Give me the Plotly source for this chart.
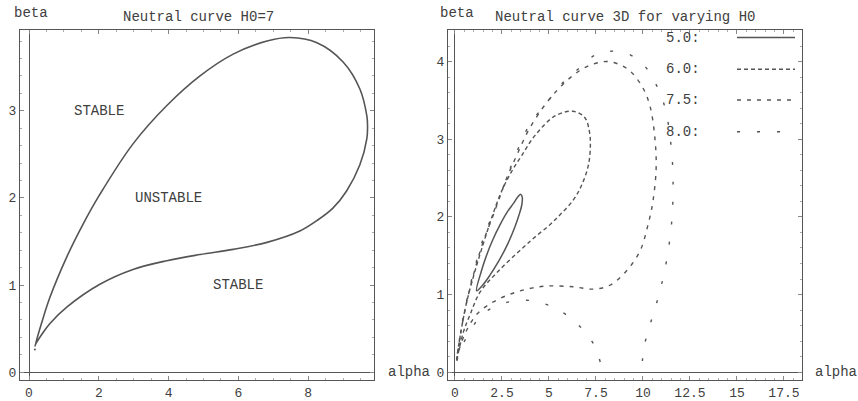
import plotly.graph_objects as go

# ---------------- data ----------------
# Left panel: neutral curve for H0 = 7, traced from the cusp along the upper branch,
# around the nose and back along the lower branch.
h7_alpha = [0.17, 0.35, 0.60, 1.09, 1.55, 2.03, 2.98, 3.95, 4.90, 5.85, 6.82, 7.48,
            8.25, 9.00, 9.48, 9.68, 9.70, 9.68, 9.48, 9.10, 8.70, 8.25, 7.76, 6.82, 5.85,
            4.90, 3.95, 2.98, 2.03, 1.09, 0.60, 0.36, 0.20, 0.17]
h7_beta = [0.30, 0.55, 0.86, 1.33, 1.70, 2.04, 2.62, 3.06, 3.40, 3.65, 3.80, 3.84,
           3.78, 3.56, 3.25, 2.94, 2.83, 2.68, 2.38, 2.08, 1.88, 1.74, 1.62, 1.49, 1.41,
           1.35, 1.28, 1.18, 1.01, 0.75, 0.56, 0.43, 0.33, 0.30]
h7_dot_alpha = [0.17]
h7_dot_beta = [0.26]

region_labels = ["STABLE", "UNSTABLE", "STABLE"]
region_alpha = [2.0, 4.0, 6.0]
region_beta = [3.0, 2.0, 1.0]

# Right panel: neutral curves for several H0
h5_alpha = [1.15, 1.40, 1.70, 2.00, 2.40, 2.80, 3.10, 3.35, 3.50, 3.58, 3.55, 3.40, 3.20,
            2.80, 2.30, 1.86, 1.50, 1.15]
h5_beta = [1.05, 1.30, 1.52, 1.70, 1.90, 2.07, 2.17, 2.26, 2.29, 2.25, 2.15, 2.02, 1.88,
           1.65, 1.42, 1.25, 1.13, 1.05]

h6_alpha = [0.10, 0.30, 0.60, 1.00, 1.50, 2.04, 2.48, 3.00, 3.55, 4.26, 5.32, 6.28, 6.90,
            7.15, 7.20, 7.09, 6.74, 6.30, 5.60, 5.05, 4.30, 3.60, 2.30, 1.33, 0.80, 0.45, 0.10]
h6_beta = [0.18, 0.50, 0.88, 1.25, 1.65, 2.05, 2.33, 2.58, 2.79, 3.05, 3.30, 3.36, 3.28,
           3.10, 2.90, 2.66, 2.41, 2.22, 2.03, 1.90, 1.75, 1.60, 1.30, 1.03, 0.74, 0.52, 0.18]

h75_alpha = [0.10, 0.30, 0.60, 1.00, 1.50, 2.00, 2.30, 2.75, 3.28, 3.88, 4.63, 5.32, 6.22,
             7.07, 8.14, 9.20, 9.95, 10.37, 10.64, 10.70, 10.53, 10.27, 9.84, 9.14, 8.24,
             7.34, 6.28, 4.89, 3.83, 2.77, 1.86, 1.17, 0.64, 0.27, 0.10]
h75_beta = [0.17, 0.50, 0.88, 1.27, 1.68, 2.00, 2.20, 2.50, 2.79, 3.10, 3.39, 3.60, 3.81,
            3.94, 4.00, 3.90, 3.68, 3.43, 3.00, 2.62, 2.20, 1.90, 1.56, 1.31, 1.12,
            1.07, 1.10, 1.11, 1.07, 0.99, 0.88, 0.75, 0.55, 0.33, 0.17]

h8_low_alpha = [0.10, 0.30, 0.70, 1.42, 2.39, 3.20, 4.15, 5.20, 6.20, 6.90, 7.45, 7.80]
h8_low_beta = [0.15, 0.30, 0.48, 0.74, 0.87, 0.92, 0.92, 0.84, 0.69, 0.52, 0.33, 0.06]

h8_up_alpha = [0.10, 0.30, 0.60, 1.00, 1.50, 2.00, 2.40, 2.90, 3.40, 4.00, 4.95, 5.74, 6.54,
               7.29, 8.09, 9.20, 10.10, 10.64, 11.00, 11.28, 11.54, 11.60, 11.55, 11.30,
               10.96, 10.64, 10.30, 10.03, 9.95]
h8_up_beta = [0.15, 0.52, 0.90, 1.30, 1.72, 2.03, 2.27, 2.60, 2.90, 3.20, 3.49, 3.73, 3.90,
              4.06, 4.13, 4.10, 3.94, 3.73, 3.54, 3.29, 2.80, 2.46, 2.00, 1.50,
              1.10, 0.82, 0.55, 0.29, 0.03]

legend_labels = ["5.0:", "6.0:", "7.5:", "8.0:"]

left_xticks = [0, 2, 4, 6, 8]
left_yticks = [0, 1, 2, 3]
right_xticks = [0, 2.5, 5, 7.5, 10, 12.5, 15, 17.5]
right_yticks = [0, 1, 2, 3, 4]

# ---------------- styling ----------------
W, H = 858, 401
FONT = "Liberation Mono, Courier New, monospace"
TXT = "#404040"
LINE = "#555555"

DASH_60 = "4px,3px"
DASH_75 = "4px,6px"
DASH_80 = "3px,17px"


def px_x(p):
    return p / W


def px_y(p):
    return 1 - p / H


fig = go.Figure()

fig.add_trace(go.Scatter(x=h7_alpha, y=h7_beta, mode="lines", xaxis="x", yaxis="y",
                         line=dict(color=LINE, width=1.6, shape="spline", smoothing=1.0),
                         hoverinfo="skip"))
fig.add_trace(go.Scatter(x=h7_dot_alpha, y=h7_dot_beta, mode="markers", xaxis="x", yaxis="y",
                         marker=dict(color=LINE, size=2), hoverinfo="skip"))

curves = [
    (h5_alpha, h5_beta, "solid", 1.5),
    (h6_alpha, h6_beta, DASH_60, 1.4),
    (h75_alpha, h75_beta, DASH_75, 1.4),
    (h8_low_alpha, h8_low_beta, DASH_80, 1.4),
    (h8_up_alpha, h8_up_beta, DASH_80, 1.4),
]
for ax, bx, dash, w in curves:
    fig.add_trace(go.Scatter(x=ax, y=bx, mode="lines", xaxis="x2", yaxis="y2",
                             line=dict(color=LINE, width=w, dash=dash, shape="spline",
                                       smoothing=1.0),
                             hoverinfo="skip"))

y_dom = [px_y(384), px_y(30)]


def axis_style(rng, domain, tickvals, anchor, minor_step):
    return dict(
        range=rng, domain=domain, anchor=anchor, tickmode="array", tickvals=tickvals,
        ticktext=[("%g" % v) for v in tickvals],
        showgrid=False, zeroline=True, zerolinecolor=LINE, zerolinewidth=1,
        showline=True, linecolor=LINE, linewidth=1, mirror="ticks",
        ticks="inside", ticklen=4, tickwidth=1, tickcolor="#888888",
        minor=dict(dtick=minor_step, ticks="inside", ticklen=2, tickcolor="#aaaaaa",
                   showgrid=False),
        tickfont=dict(family=FONT, size=13, color=TXT),
        fixedrange=True,
    )


fig.update_layout(
    width=W, height=H,
    margin=dict(l=0, r=0, t=0, b=0),
    paper_bgcolor="white", plot_bgcolor="white",
    showlegend=False,
    xaxis=axis_style([-0.258, 9.885], [px_x(20), px_x(374)], left_xticks, "y", 0.5),
    yaxis=axis_style([-0.091, 3.93], y_dom, left_yticks, "x", 0.2),
    xaxis2=axis_style([-0.372, 18.46], [px_x(448), px_x(802)], right_xticks, "y2", 0.5),
    yaxis2=axis_style([-0.102, 4.41], y_dom, right_yticks, "x2", 0.2),
)

ann = []


def text(x, y, s, size=14, xanchor="center"):
    ann.append(dict(x=x, y=y, xref="paper", yref="paper", text=s, showarrow=False,
                    xanchor=xanchor, yanchor="middle",
                    font=dict(family=FONT, size=size, color=TXT)))


# titles and axis names
text(px_x(198), px_y(17), "Neutral curve H0=7")
text(px_x(625), px_y(17), "Neutral curve 3D for varying H0")
text(px_x(12), px_y(13), "beta", xanchor="left")
text(px_x(438), px_y(13), "beta", xanchor="left")
text(px_x(386), px_y(376), "alpha", xanchor="left")
text(px_x(813), px_y(376), "alpha", xanchor="left")

# region labels inside the left panel
for lab, a, b in zip(region_labels, region_alpha, region_beta):
    ann.append(dict(x=a, y=b, xref="x", yref="y", text=lab, showarrow=False,
                    font=dict(family=FONT, size=14, color=TXT)))

# legend of the right panel
legend_rows = [38, 70, 101, 133]
legend_dash = ["solid", DASH_60, DASH_75, DASH_80]
shapes = []
for lab, row, dash in zip(legend_labels, legend_rows, legend_dash):
    text(px_x(664), px_y(row), lab, size=14, xanchor="left")
    shapes.append(dict(type="line", xref="paper", yref="paper",
                       x0=px_x(737), x1=px_x(795), y0=px_y(row), y1=px_y(row),
                       line=dict(color=LINE, width=1.5, dash=dash)))

fig.update_layout(annotations=ann, shapes=shapes)

fig.write_html("out.html")
